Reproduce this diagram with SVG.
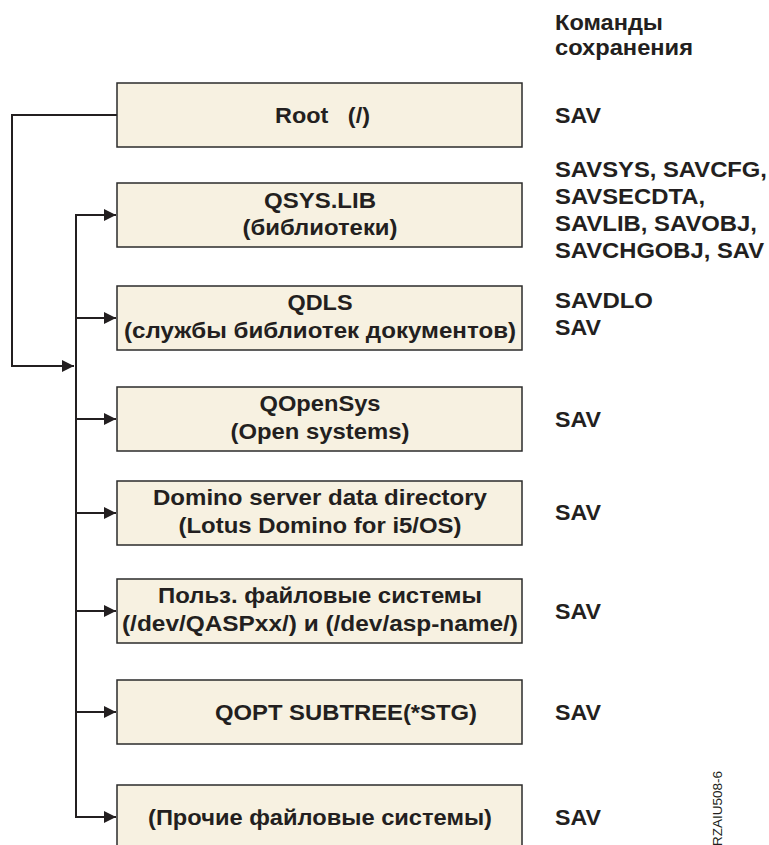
<svg xmlns="http://www.w3.org/2000/svg" width="769" height="845" viewBox="0 0 769 845">
<defs>
<style>
.box{fill:#f7f1e1;stroke:#2b2b2b;stroke-width:1.5}
.t{font-family:"Liberation Sans",Arial,sans-serif;font-weight:bold;font-size:22px;fill:#231f20}
.c{text-anchor:middle}
.ln{fill:none;stroke:#231f20;stroke-width:2}
.id{font-family:"Liberation Sans",Arial,sans-serif;font-size:13.5px;fill:#231f20}
</style>
<marker id="ah" markerWidth="12" markerHeight="12" viewBox="0 0 12 12" refX="12" refY="6" orient="auto" markerUnits="userSpaceOnUse">
<path d="M0,0 L12,6 L0,12 Z" fill="#231f20"/>
</marker>
</defs>
<rect width="769" height="845" fill="#ffffff"/>
<g id="connectors">
<path class="ln" d="M117,115 H12 V366 H74" marker-end="url(#ah)"/>
<path class="ln" d="M76,214 V817"/>
<path class="ln" d="M76,215 H116" marker-end="url(#ah)"/>
<path class="ln" d="M76,318 H116" marker-end="url(#ah)"/>
<path class="ln" d="M76,419 H116" marker-end="url(#ah)"/>
<path class="ln" d="M76,513 H116" marker-end="url(#ah)"/>
<path class="ln" d="M76,611 H116" marker-end="url(#ah)"/>
<path class="ln" d="M76,712 H116" marker-end="url(#ah)"/>
<path class="ln" d="M75,817 H116" marker-end="url(#ah)"/>
</g>
<g id="header">
<text class="t" x="555" y="30" textLength="108" lengthAdjust="spacingAndGlyphs">Команды</text>
<text class="t" x="555" y="55" textLength="138" lengthAdjust="spacingAndGlyphs">сохранения</text>
</g>
<g id="root">
<rect class="box" x="117" y="83" width="405" height="64"/>
<text class="t" x="275" y="123" xml:space="preserve" textLength="95" lengthAdjust="spacingAndGlyphs">Root   (/)</text>
<text class="t" x="555" y="123" textLength="46" lengthAdjust="spacingAndGlyphs">SAV</text>
</g>
<g id="qsys">
<rect class="box" x="117" y="183" width="405" height="64"/>
<text class="t c" x="320" y="208" textLength="112" lengthAdjust="spacingAndGlyphs">QSYS.LIB</text>
<text class="t c" x="320" y="235" textLength="155" lengthAdjust="spacingAndGlyphs">(библиотеки)</text>
<text class="t" x="555" y="177" textLength="212" lengthAdjust="spacingAndGlyphs">SAVSYS, SAVCFG,</text>
<text class="t" x="555" y="204" textLength="150" lengthAdjust="spacingAndGlyphs">SAVSECDTA,</text>
<text class="t" x="555" y="231" textLength="202" lengthAdjust="spacingAndGlyphs">SAVLIB, SAVOBJ,</text>
<text class="t" x="555" y="258" textLength="209" lengthAdjust="spacingAndGlyphs">SAVCHGOBJ, SAV</text>
</g>
<g id="qdls">
<rect class="box" x="117" y="286" width="405" height="64"/>
<text class="t c" x="320" y="310" textLength="65" lengthAdjust="spacingAndGlyphs">QDLS</text>
<text class="t c" x="320" y="338" textLength="392" lengthAdjust="spacingAndGlyphs">(службы библиотек документов)</text>
<text class="t" x="555" y="308" textLength="98" lengthAdjust="spacingAndGlyphs">SAVDLO</text>
<text class="t" x="555" y="335" textLength="46" lengthAdjust="spacingAndGlyphs">SAV</text>
</g>
<g id="qopensys">
<rect class="box" x="117" y="387" width="405" height="64"/>
<text class="t c" x="320" y="411" textLength="121" lengthAdjust="spacingAndGlyphs">QOpenSys</text>
<text class="t c" x="320" y="439" textLength="179" lengthAdjust="spacingAndGlyphs">(Open systems)</text>
<text class="t" x="555" y="427" textLength="46" lengthAdjust="spacingAndGlyphs">SAV</text>
</g>
<g id="domino">
<rect class="box" x="117" y="481" width="405" height="64"/>
<text class="t c" x="320" y="505" textLength="334" lengthAdjust="spacingAndGlyphs">Domino server data directory</text>
<text class="t c" x="320" y="533" textLength="283" lengthAdjust="spacingAndGlyphs">(Lotus Domino for i5/OS)</text>
<text class="t" x="555" y="520" textLength="46" lengthAdjust="spacingAndGlyphs">SAV</text>
</g>
<g id="udfs">
<rect class="box" x="117" y="579" width="405" height="64"/>
<text class="t c" x="320" y="603" textLength="324" lengthAdjust="spacingAndGlyphs">Польз. файловые системы</text>
<text class="t c" x="320" y="631" textLength="396" lengthAdjust="spacingAndGlyphs">(/dev/QASPxx/) и (/dev/asp-name/)</text>
<text class="t" x="555" y="619" textLength="46" lengthAdjust="spacingAndGlyphs">SAV</text>
</g>
<g id="qopt">
<rect class="box" x="117" y="680" width="405" height="64"/>
<text class="t" x="215" y="720" textLength="262" lengthAdjust="spacingAndGlyphs">QOPT SUBTREE(*STG)</text>
<text class="t" x="555" y="720" textLength="46" lengthAdjust="spacingAndGlyphs">SAV</text>
</g>
<g id="other">
<rect class="box" x="117" y="785" width="405" height="70"/>
<text class="t c" x="320" y="825" textLength="344" lengthAdjust="spacingAndGlyphs">(Прочие файловые системы)</text>
<text class="t" x="555" y="825" textLength="46" lengthAdjust="spacingAndGlyphs">SAV</text>
</g>
<text class="id" transform="translate(722,846) rotate(-90)">RZAIU508-6</text>
</svg>
